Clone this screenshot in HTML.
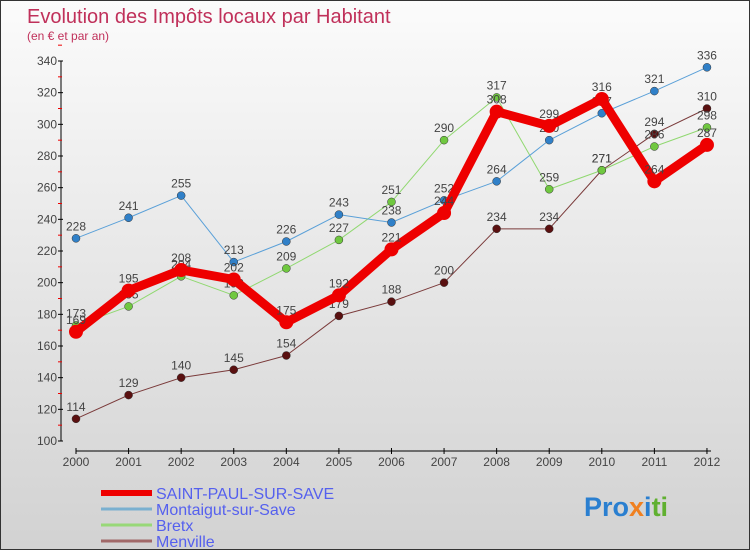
<!DOCTYPE html>
<html><head><meta charset="utf-8"><style>
body{margin:0}
#c{width:750px;height:550px;position:relative;overflow:hidden;box-sizing:border-box;border:1px solid #333;background:linear-gradient(#fbfbfb,#d2d2d2);font-family:"Liberation Sans","DejaVu Sans",sans-serif}
</style></head><body>
<div id="c">
<svg width="750" height="550" id="s" style="position:absolute;left:0;top:0">
<text x="26" y="22" font-size="20" fill="#c0305a">Evolution des Impôts locaux par Habitant</text>
<text x="26" y="39" font-size="12" fill="#c0305a">(en € et par an)</text>
<g id="ax"></g><g id="ser"></g><g id="lg"></g>
<text x="583" y="515" font-size="27" font-weight="bold"><tspan fill="#2a7fd0">Pro</tspan><tspan fill="#f08020">x</tspan><tspan fill="#2a7fd0">i</tspan><tspan fill="#60b030">ti</tspan></text>
</svg></div>
<script>
const years=[2000,2001,2002,2003,2004,2005,2006,2007,2008,2009,2010,2011,2012];
const yTicks=[100,120,140,160,180,200,220,240,260,280,300,320,340];
const saint=[169,195,208,202,175,192,221,244,308,299,316,264,287];
const montaigut=[228,241,255,213,226,243,238,252,264,290,307,321,336];
const bretx=[173,185,204,192,209,227,251,290,317,259,271,286,298];
const menville=[114,129,140,145,154,179,188,200,234,234,271,294,310];
const names=["SAINT-PAUL-SUR-SAVE","Montaigut-sur-Save","Bretx","Menville"];
const NS="http://www.w3.org/2000/svg";
const X=i=>75+i*52.58, Y=v=>440-(v-100)*380/240;
function mk(p,t,a){const e=document.createElementNS(NS,t);for(const k in a)e.setAttribute(k,a[k]);p.appendChild(e);return e;}
const ax=document.getElementById('ax'),ser=document.getElementById('ser'),lg=document.getElementById('lg');
let e=mk(ax,'line',{x1:60,y1:60,x2:60,y2:440,stroke:'#000'});

e=mk(ax,'line',{x1:75,y1:450,x2:710,y2:450,stroke:'#000'});

yTicks.forEach(v=>{mk(ax,'line',{x1:57,x2:62,y1:Y(v),y2:Y(v),stroke:'#000'});
 mk(ax,'line',{x1:57,x2:61,y1:Y(v+10),y2:Y(v+10),stroke:'#e00'});
 const t=mk(ax,'text',{x:56,y:Y(v)+4,'text-anchor':'end','font-size':12,fill:'#444'});t.textContent=v;
 });
years.forEach((y,i)=>{mk(ax,'line',{x1:X(i),x2:X(i),y1:447,y2:453,stroke:'#000'});
 const t=mk(ax,'text',{x:X(i),y:465,'text-anchor':'middle','font-size':12,fill:'#444'});t.textContent=y;
 });
const S=[[menville,'#7a3a3a','#5a1010',1,4],[bretx,'#90d870','#70c840',1,4],[montaigut,'#5aa0d8','#3080c8',1,4],[saint,'#ee0000','#ee0000',9,7]];
const sn=['menville','bretx','montaigut','saint-paul'];
S.forEach(([d,lc,pc,w,r],k)=>{
 const l=mk(ser,'polyline',{points:d.map((v,i)=>X(i)+','+Y(v)).join(' '),fill:'none',stroke:lc,'stroke-width':w,'stroke-linejoin':'round'});
 
 d.forEach((v,i)=>{const c=mk(ser,'circle',{cx:X(i),cy:Y(v),r:r,fill:pc,stroke:k==3?'none':'#333','stroke-width':0.5});
  
  const t=mk(ser,'text',{x:X(i),y:Y(v)-8,'text-anchor':'middle','font-size':12,fill:'#444'});t.textContent=v;
  });
});
const LC=['#ee0000','#7ab0d0','#98d878','#a06868'],LW=[6,3,3,3];
names.forEach((n,i)=>{const y=492+i*16;
 const l=mk(lg,'line',{x1:100,x2:151,y1:y,y2:y,stroke:LC[i],'stroke-width':LW[i]});
 
 const t=mk(lg,'text',{x:155,y:y+6,'font-size':16,fill:'#5560ee'});t.textContent=n;
 });
</script>
</body></html>
